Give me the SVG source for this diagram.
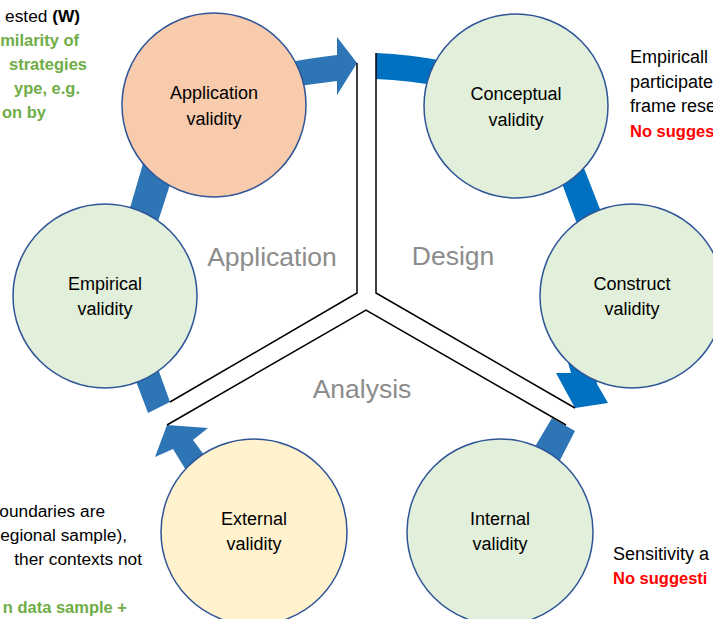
<svg xmlns="http://www.w3.org/2000/svg" width="713" height="619" viewBox="0 0 713 619">
<style>
.node{stroke:#2F5597;stroke-width:1.5}
.nt{font-family:"Liberation Sans",Arial,sans-serif;font-size:18px;fill:#000;text-anchor:middle}
.phase{font-family:"Liberation Sans",Arial,sans-serif;font-size:26.5px;fill:#8C8C8C;text-anchor:middle}
.side{font-family:"Liberation Sans",Arial,sans-serif;font-size:17.3px;fill:#000}
.rs{font-size:18px}
.g{fill:#70AD47;font-weight:bold;font-size:16.5px}
.r{fill:#FF0000;font-weight:bold;font-size:16.5px}
.b1{fill:#2E75B6}
.b2{fill:#0070C0}
.div{fill:none;stroke:#000;stroke-width:1.5;stroke-linejoin:miter}
</style>
<rect width="713" height="619" fill="#fff"/>
<g id="connectors">
<path class="b1" d="M280,64 Q310,58 337,55 L337,37 L357,63 L337,95 L337,81 Q308,84 280,90 Z"/>
<path class="b2" d="M376,53 Q408,54 450,62 L450,88 Q408,80 376,79 Z"/>
<path class="b2" d="M557,170 L582,163 L605,222 L580,232 Z"/>
<path class="b2" d="M563,345 L571,373 L556,373 L575,408 L608,403 L597,384 L592,345 Z"/>
<path class="b1" d="M552,418 L575,431 L555,470 L530,455 Z"/>
<path class="b1" d="M167,425 L208,428 L193,440 L215,470 L195,485 L173,449 L155,457 Z"/>
<path class="b1" d="M128,360 L152,352 L170,402 L148,413 Z"/>
<path class="b1" d="M147,150 L178,160 L152,240 L125,225 Z"/>
<path class="div" d="M357,63 L357,293 L170,402"/>
<path class="div" d="M376,53 L376,293 L575,408"/>
<path class="div" d="M167,425 L366,310 L566,425"/>
</g>
<g id="n-application"><circle class="node" cx="214" cy="105" r="92" fill="#F8CBAD"/><text class="nt" x="214" y="99">Application</text><text class="nt" x="214" y="125">validity</text></g>
<g id="n-conceptual"><circle class="node" cx="516" cy="106" r="92" fill="#E2EFDA"/><text class="nt" x="516" y="100">Conceptual</text><text class="nt" x="516" y="126">validity</text></g>
<g id="n-construct"><circle class="node" cx="632" cy="296" r="92" fill="#E2EFDA"/><text class="nt" x="632" y="290">Construct</text><text class="nt" x="632" y="315">validity</text></g>
<g id="n-internal"><circle class="node" cx="500" cy="532" r="93" fill="#E2EFDA"/><text class="nt" x="500" y="525">Internal</text><text class="nt" x="500" y="550">validity</text></g>
<g id="n-external"><circle class="node" cx="254" cy="532" r="93" fill="#FFF2CC"/><text class="nt" x="254" y="525">External</text><text class="nt" x="254" y="550">validity</text></g>
<g id="n-empirical"><circle class="node" cx="105" cy="296" r="92" fill="#E2EFDA"/><text class="nt" x="105" y="290">Empirical</text><text class="nt" x="105" y="315">validity</text></g>
<g id="phases">
<text class="phase" x="272" y="266">Application</text>
<text class="phase" x="453" y="265">Design</text>
<text class="phase" x="362" y="398">Analysis</text>
</g>
<g id="notes">
<text class="side" x="80" y="22" text-anchor="end">ested <tspan font-weight="bold">(W)</tspan></text>
<text class="side g" x="79" y="46" text-anchor="end">milarity of</text>
<text class="side g" x="87" y="70" text-anchor="end">strategies</text>
<text class="side g" x="80" y="94" text-anchor="end">ype, e.g.</text>
<text class="side g" x="2" y="118">on by</text>
<text class="side rs" x="630" y="63">Empiricall</text>
<text class="side rs" x="630" y="87.5">participate</text>
<text class="side rs" x="630" y="112">frame rese</text>
<text class="side r" x="630" y="136.5">No sugges</text>
<text class="side" x="105" y="517" text-anchor="end" fill="#555">oundaries are</text>
<text class="side" x="127" y="541" text-anchor="end">egional sample),</text>
<text class="side" x="142" y="565" text-anchor="end">ther contexts not</text>
<text class="side g" x="127" y="613" text-anchor="end">n data sample +</text>
<text class="side rs" x="613" y="560">Sensitivity a</text>
<text class="side r" x="613" y="584">No suggesti</text>
</g>
</svg>
